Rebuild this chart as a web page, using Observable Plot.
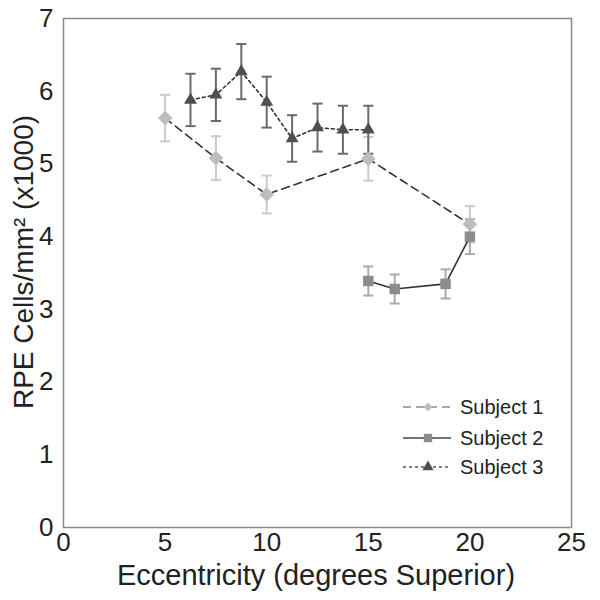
<!DOCTYPE html>
<html><head><meta charset="utf-8">
<script src="https://cdn.jsdelivr.net/npm/d3@7"></script>
<script src="https://cdn.jsdelivr.net/npm/@observablehq/plot@0.6"></script>
<style>
body{margin:0;background:#fff;font-family:"Liberation Sans",Arial,sans-serif;}
#wrap{position:relative;width:600px;height:600px;}
</style></head>
<body><div id="wrap"></div>
<script>
const seriesNames = ["Subject 1", "Subject 2", "Subject 3"];
const subject1X = [5, 7.5, 10, 15, 20];
const subject1Y = [5.63, 5.08, 4.58, 5.07, 4.17];
const subject1Err = [0.32, 0.3, 0.26, 0.3, 0.25];
const subject2X = [15, 16.3, 18.8, 20];
const subject2Y = [3.39, 3.28, 3.35, 4.0];
const subject2Err = [0.2, 0.2, 0.2, 0.24];
const subject3X = [6.25, 7.5, 8.75, 10, 11.25, 12.5, 13.75, 15];
const subject3Y = [5.88, 5.95, 6.27, 5.85, 5.35, 5.5, 5.47, 5.47];
const subject3Err = [0.36, 0.36, 0.38, 0.35, 0.32, 0.33, 0.33, 0.33];
const xTicks = [0, 5, 10, 15, 20, 25];
const yTicks = [0, 1, 2, 3, 4, 5, 6, 7];

const styles = {
  "Subject 1": {symbol: "diamond2", d3sym: d3.symbolDiamond2, fill: "#bdbdbd", bar: "#cacaca", dash: "8,5", legendLine: "#8a8a8a", r: 6.6, legendSize: 50},
  "Subject 2": {symbol: "square", d3sym: d3.symbolSquare, fill: "#8c8c8c", bar: "#ababab", dash: null, legendLine: "#444", r: 5.9, legendSize: 70},
  "Subject 3": {symbol: "triangle", d3sym: d3.symbolTriangle, fill: "#4f4f4f", bar: "#6a6a6a", dash: "3,3", legendLine: "#555", r: 4.8, legendSize: 55}
};
function rows(name, xs, ys, es) { return xs.map((x, i) => ({name, x, y: ys[i], e: es[i]})); }
const series = [
  rows("Subject 1", subject1X, subject1Y, subject1Err),
  rows("Subject 2", subject2X, subject2Y, subject2Err),
  rows("Subject 3", subject3X, subject3Y, subject3Err)
];
const capHalf = 0.25;
const marks = [Plot.frame({stroke: "#8a8a8a", strokeWidth: 1.5})];
for (const data of series) {
  const s = styles[data[0].name];
  marks.push(Plot.ruleX(data, {x: "x", y1: d => d.y - d.e, y2: d => d.y + d.e, stroke: s.bar, strokeWidth: 2}));
  marks.push(Plot.link(data, {x1: d => d.x - capHalf, x2: d => d.x + capHalf, y1: d => d.y + d.e, y2: d => d.y + d.e, stroke: s.bar, strokeWidth: 2}));
  marks.push(Plot.link(data, {x1: d => d.x - capHalf, x2: d => d.x + capHalf, y1: d => d.y - d.e, y2: d => d.y - d.e, stroke: s.bar, strokeWidth: 2}));
}
for (const data of series) {
  const s = styles[data[0].name];
  marks.push(Plot.line(data, {x: "x", y: "y", stroke: "#333", strokeWidth: 1.6, strokeDasharray: s.dash}));
}
for (const data of series) {
  const s = styles[data[0].name];
  marks.push(Plot.dot(data, {x: "x", y: "y", symbol: () => s.symbol, fill: s.fill, r: s.r, stroke: "none"}));
}
marks.push(Plot.axisX({ticks: xTicks, tickSize: 0, tickPadding: 5, fontSize: 26, label: null, fill: "#222", tickFormat: d3.format("d")}));
marks.push(Plot.axisY({ticks: yTicks, tickSize: 0, tickPadding: 10, fontSize: 26, label: null, fill: "#222", tickFormat: d3.format("d")}));

const chart = Plot.plot({
  width: 600, height: 600,
  marginLeft: 63, marginRight: 29, marginTop: 18, marginBottom: 73,
  x: {domain: [0, 25]},
  y: {domain: [0, 7]},
  symbol: {type: "identity"},
  style: {fontFamily: "Liberation Sans, Arial, sans-serif", background: "#fff"},
  marks
});
const wrap = document.getElementById("wrap");
wrap.appendChild(chart);

// axis titles
const svg = d3.select(chart);
svg.append("text").attr("x", 316).attr("y", 585).attr("text-anchor", "middle")
  .attr("font-size", 29).attr("fill", "#222").text("Eccentricity (degrees Superior)");
svg.append("text").attr("transform", "translate(33,262) rotate(-90)").attr("text-anchor", "middle")
  .attr("font-size", 28).attr("fill", "#222").text("RPE Cells/mm² (x1000)");

// legend
const lg = svg.append("g").attr("font-size", 20).attr("fill", "#222").attr("text-anchor", "start");
seriesNames.forEach((name, i) => {
  const s = styles[name];
  const yy = [407, 438, 467][i];
  lg.append("line").attr("x1", 403).attr("x2", 451).attr("y1", yy).attr("y2", yy)
    .attr("stroke", s.legendLine).attr("stroke-width", 1.3).attr("stroke-dasharray", s.dash);
  lg.append("path").attr("transform", `translate(428,${yy})`)
    .attr("d", d3.symbol(s.d3sym, s.legendSize)()).attr("fill", s.fill);
  lg.append("text").attr("x", 460).attr("y", yy).attr("dy", "0.35em").text(name);
});
</script></body></html>
